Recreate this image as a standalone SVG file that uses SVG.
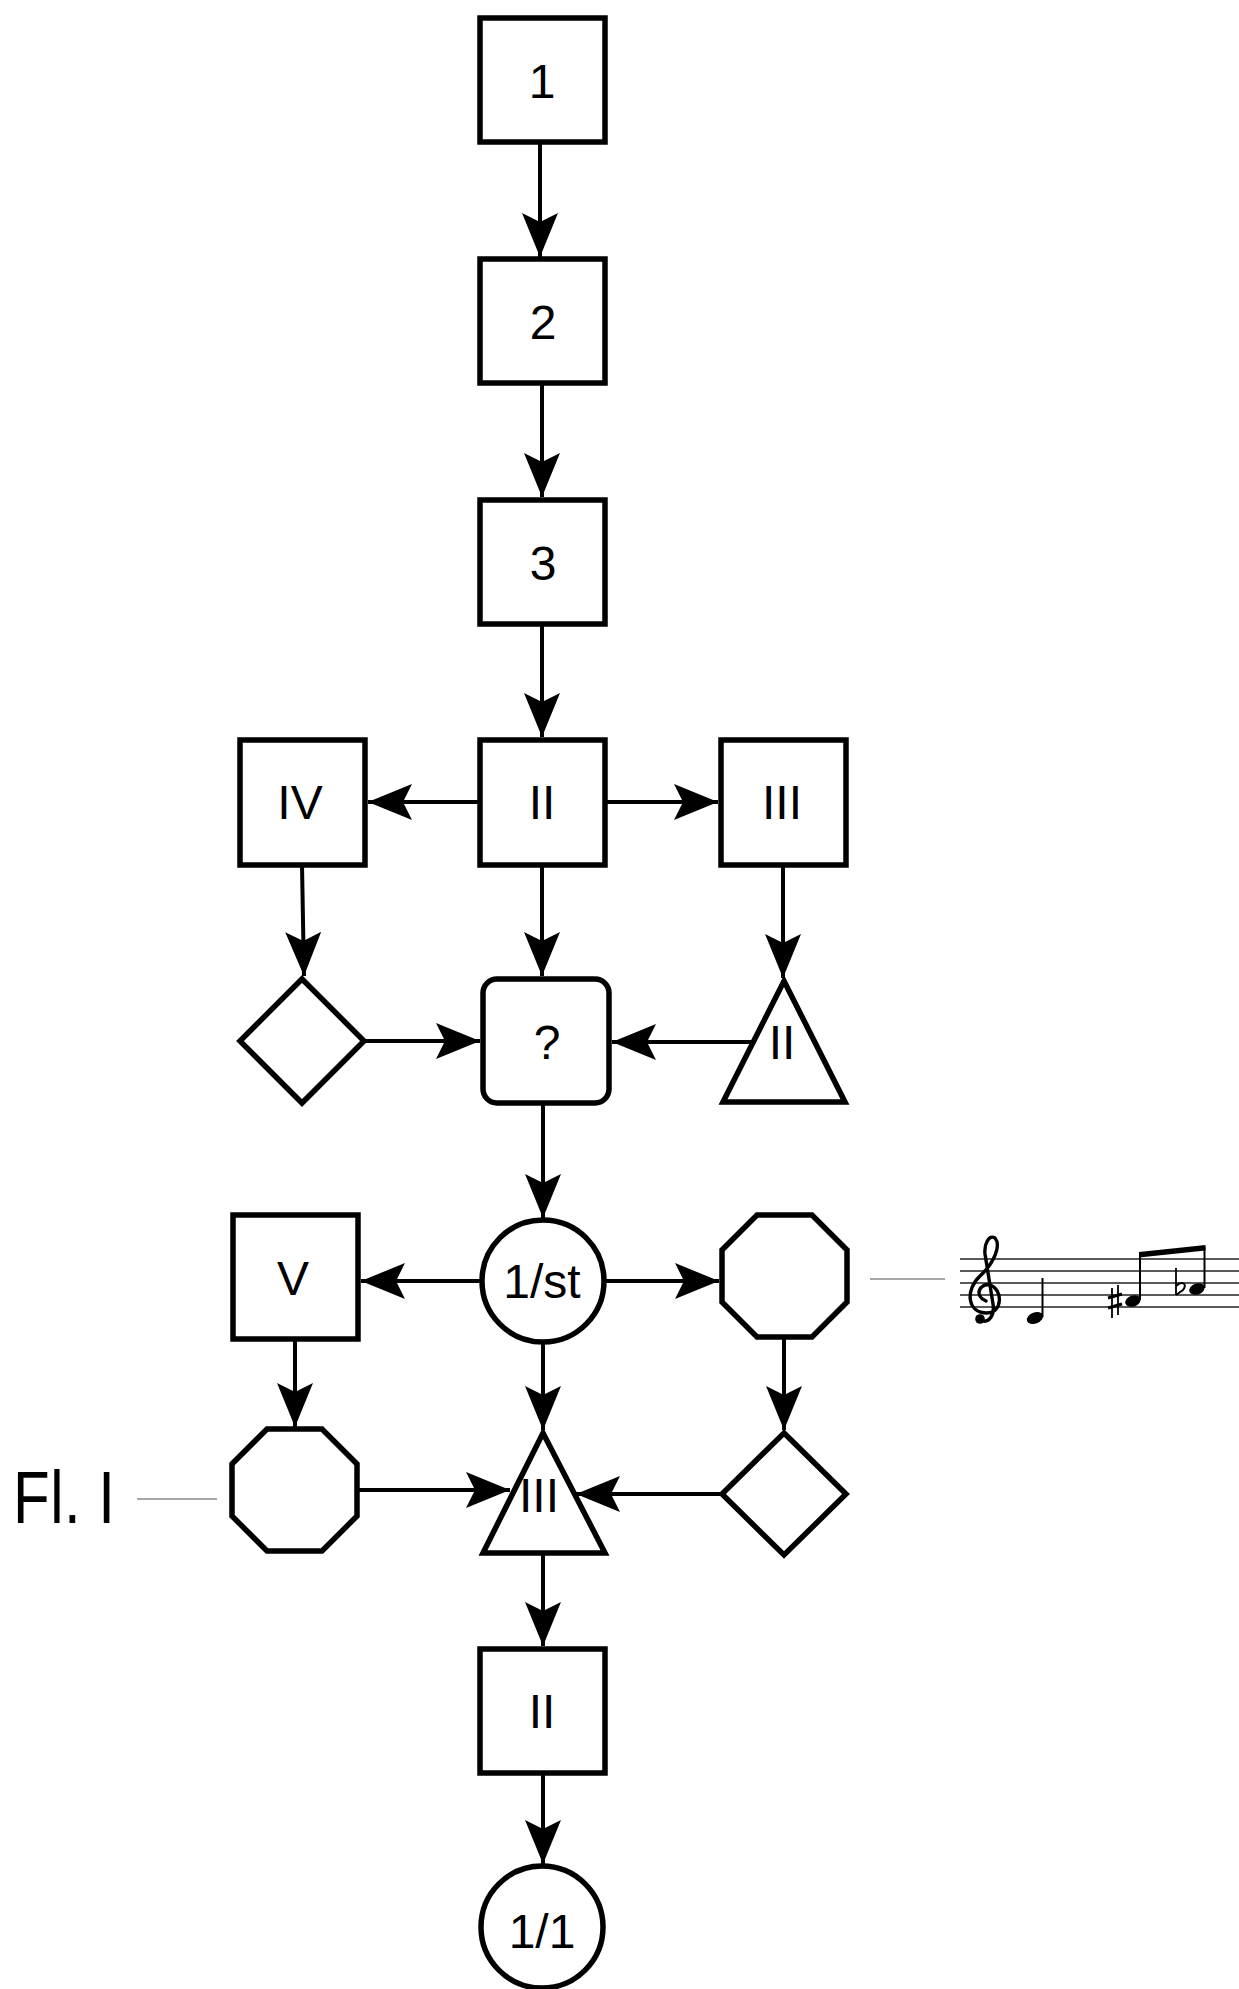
<svg xmlns="http://www.w3.org/2000/svg" width="1239" height="1989" viewBox="0 0 1239 1989">
<defs>
<style>
.n{fill:#fff;stroke:#000;stroke-width:5.5;stroke-linejoin:miter}
.t{font-family:"Liberation Sans",Arial,sans-serif;font-size:48px;fill:#000;text-anchor:middle}
.e{fill:none;stroke:#000;stroke-width:4}
.g{fill:none;stroke:#8a8a8a;stroke-width:1.6}
.st{stroke:#5a5a5a;stroke-width:2}
</style>
<marker id="ah" viewBox="-46 -20 48 40" refX="0" refY="0" markerWidth="48" markerHeight="40" markerUnits="userSpaceOnUse" orient="auto">
<path d="M0,0 L-44,-18 L-35,0 L-44,18 Z" fill="#000"/>
</marker>
</defs>
<rect width="1239" height="1989" fill="#fff"/>

<g id="connectors">
<path class="e" marker-end="url(#ah)" d="M540,142 L540,257"/>
<path class="e" marker-end="url(#ah)" d="M542,383 L542,497"/>
<path class="e" marker-end="url(#ah)" d="M542,624 L542,737"/>
<path class="e" marker-end="url(#ah)" d="M480,802 L368,802"/>
<path class="e" marker-end="url(#ah)" d="M605,802 L718,802"/>
<path class="e" marker-end="url(#ah)" d="M302,865 L304,976"/>
<path class="e" marker-end="url(#ah)" d="M542,865 L542,976"/>
<path class="e" marker-end="url(#ah)" d="M783,865 L783,978"/>
<path class="e" marker-end="url(#ah)" d="M364,1041 L480,1041"/>
<path class="e" marker-end="url(#ah)" d="M753,1042 L612,1042"/>
<path class="e" marker-end="url(#ah)" d="M543,1103 L543,1218"/>
<path class="e" marker-end="url(#ah)" d="M482,1281 L361,1281"/>
<path class="e" marker-end="url(#ah)" d="M604,1281 L719,1281"/>
<path class="e" marker-end="url(#ah)" d="M295,1339 L295,1427"/>
<path class="e" marker-end="url(#ah)" d="M543,1342 L543,1430"/>
<path class="e" marker-end="url(#ah)" d="M784,1337 L784,1430"/>
<path class="e" marker-end="url(#ah)" d="M358,1490 L510,1490"/>
<path class="e" marker-end="url(#ah)" d="M722,1494 L576,1494"/>
<path class="e" marker-end="url(#ah)" d="M543,1553 L543,1646"/>
<path class="e" marker-end="url(#ah)" d="M543,1773 L543,1864"/>
<path class="g" d="M870,1279 L945,1279"/>
<path class="g" d="M137,1499 L217,1499"/>
</g>

<g id="n1"><rect class="n" x="480" y="18" width="125" height="124"/><text class="t" x="542" y="98">1</text></g>
<g id="n2"><rect class="n" x="480" y="259" width="125" height="124"/><text class="t" x="543" y="339">2</text></g>
<g id="n3"><rect class="n" x="480" y="500" width="125" height="124"/><text class="t" x="543" y="580">3</text></g>
<g id="nIV"><rect class="n" x="240" y="740" width="125" height="125"/><text class="t" x="300" y="819">IV</text></g>
<g id="nII"><rect class="n" x="480" y="740" width="125" height="125"/><text class="t" x="542" y="819">II</text></g>
<g id="nIII"><rect class="n" x="721" y="740" width="125" height="125"/><text class="t" x="782" y="819">III</text></g>
<g id="nD1"><polygon class="n" points="302,979 364,1041 302,1103 240,1041"/></g>
<g id="nQ"><rect class="n" x="483" y="979" width="126" height="124" rx="14" ry="14"/><text class="t" x="547" y="1059">?</text></g>
<g id="nT1"><polygon class="n" points="784,981 845,1102 723,1102"/><text class="t" x="782" y="1059">II</text></g>
<g id="nV"><rect class="n" x="233" y="1215" width="125" height="124"/><text class="t" x="293" y="1295">V</text></g>
<g id="nC1"><circle class="n" cx="543" cy="1281" r="61"/><text class="t" x="542" y="1298">1/st</text></g>
<g id="nO1"><polygon class="n" points="757,1215 812,1215 847,1250 847,1302 812,1337 757,1337 722,1302 722,1250"/></g>
<g id="nO2"><polygon class="n" points="267,1429 322,1429 357,1464 357,1516 322,1551 267,1551 232,1516 232,1464"/></g>
<g id="nT2"><polygon class="n" points="543,1433 605,1553 483,1553"/><text class="t" x="539" y="1512">III</text></g>
<g id="nD2"><polygon class="n" points="784,1433 846,1494 784,1555 722,1494"/></g>
<g id="nII2"><rect class="n" x="480" y="1649" width="125" height="124"/><text class="t" x="542" y="1728">II</text></g>
<g id="nC2"><circle class="n" cx="542" cy="1927" r="61"/><text class="t" x="542" y="1948">1/1</text></g>

<g id="label-fl">
<text transform="translate(13,1523) scale(1,1.25)" style="font-family:'Liberation Sans',Arial,sans-serif;font-size:60px;fill:#000;letter-spacing:0.5px">Fl. I</text>
</g>

<g id="music">
<line class="st" x1="960" y1="1259" x2="1239" y2="1259"/>
<line class="st" x1="960" y1="1271" x2="1239" y2="1271"/>
<line class="st" x1="960" y1="1283" x2="1239" y2="1283"/>
<line class="st" x1="960" y1="1295" x2="1239" y2="1295"/>
<line class="st" x1="960" y1="1307" x2="1239" y2="1307"/>
<path d="M981,1320 C988,1324 995,1316 993,1304 L985,1254 C984,1244 989,1234 995,1238 C1001,1245 995,1262 980,1276 C965,1290 967,1313 987,1313 C1003,1313 1003,1289 990,1285 C979,1283 974,1296 986,1301" fill="none" stroke="#000" stroke-width="3.4" stroke-linecap="round"/>
<circle cx="980" cy="1319" r="4.8" fill="#000"/>
<ellipse cx="1035" cy="1318" rx="8.5" ry="5.5" transform="rotate(-20 1035 1318)" fill="#000"/>
<line x1="1042.5" y1="1317" x2="1042.5" y2="1278" stroke="#000" stroke-width="2"/>
<ellipse cx="1133" cy="1301" rx="8" ry="5.5" transform="rotate(-20 1133 1301)" fill="#000"/>
<line x1="1140" y1="1300" x2="1140" y2="1254" stroke="#000" stroke-width="2"/>
<ellipse cx="1197" cy="1289" rx="8" ry="5.5" transform="rotate(-20 1197 1289)" fill="#000"/>
<line x1="1204.5" y1="1288" x2="1204.5" y2="1247" stroke="#000" stroke-width="2"/>
<polygon points="1139,1252 1205.5,1245 1205.5,1250.5 1139,1257.5" fill="#000"/>
<line x1="1112" y1="1288" x2="1112" y2="1318" stroke="#000" stroke-width="1.8"/>
<line x1="1118" y1="1285" x2="1118" y2="1315" stroke="#000" stroke-width="1.8"/>
<line x1="1108" y1="1298" x2="1122" y2="1294" stroke="#000" stroke-width="3"/>
<line x1="1108" y1="1308" x2="1122" y2="1304" stroke="#000" stroke-width="3"/>
<line x1="1176" y1="1268" x2="1176" y2="1295" stroke="#000" stroke-width="1.8"/>
<path d="M1176,1286 C1182,1280 1188,1284 1183,1290 L1176,1295" fill="none" stroke="#000" stroke-width="2"/>
</g>
</svg>
